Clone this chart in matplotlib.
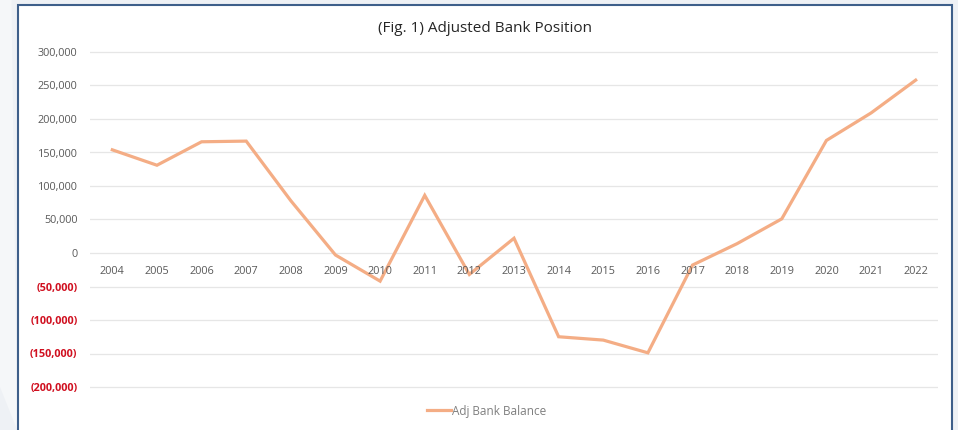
import matplotlib
matplotlib.use('Agg')
import matplotlib.pyplot as plt
from matplotlib.patches import Rectangle, Polygon

# данные
years = ['2004', '2005', '2006', '2007', '2008', '2009', '2010', '2011', '2012', '2013',
         '2014', '2015', '2016', '2017', '2018', '2019', '2020', '2021', '2022']
balance = [154000, 131000, 166000, 167000, 78000, -3000, -42000, 86000, -32000, 22000,
           -125000, -130000, -149000, -18000, 14000, 51000, 168000, 209000, 258000]
yticks = [300000, 250000, 200000, 150000, 100000, 50000, 0,
          -50000, -100000, -150000, -200000]


def fmt(v):
    if v < 0:
        return '({:,})'.format(-v)
    if v == 0:
        return '0'
    return '{:,}'.format(v)


plt.rcParams['font.family'] = ['Open Sans', 'DejaVu Sans']

W, H = 958, 430
fig = plt.figure(figsize=(W / 100, H / 100), dpi=100)
fig.patch.set_facecolor('#eef1f5')

# светлая полоса слева
fig.patches.append(Polygon([(0, 1), (0.012, 1), (0.018, 0), (0, 0.1)], closed=True,
                           transform=fig.transFigure, facecolor='#f5f7f9', edgecolor='none',
                           zorder=-2))
# рамка диаграммы
fig.patches.append(Rectangle((18 / W, -0.05), (952 - 18) / W, (H - 5) / H + 0.05,
                             transform=fig.transFigure, facecolor='white',
                             edgecolor='#3e5f8a', linewidth=1.5, zorder=-1))

ax = fig.add_axes([90 / W, 1 - 400 / H, (938 - 90) / W, (400 - 40) / H])
ax.set_facecolor('none')
ax.set_zorder(2)

x = list(range(len(years)))
line, = ax.plot(x, balance, color='#f4ad85', lw=2.3, label='Adj Bank Balance',
                solid_joinstyle='miter', zorder=3)

ax.set_xlim(-0.5, len(years) - 0.5)
# 300k at y=52, -200k at y=387
k = (387 - 52) / 500000
ax.set_ylim(-200000 - (400 - 387) / k, 300000 + (52 - 40) / k)
ax.set_yticks(yticks)
ax.set_yticklabels([fmt(v) for v in yticks], fontsize=7.8)
for lbl, v in zip(ax.get_yticklabels(), yticks):
    if v < 0:
        lbl.set_color('#d01020')
        lbl.set_fontweight('bold')
    else:
        lbl.set_color('#595959')
ax.grid(axis='y', color='#e6e6e6', lw=0.9, zorder=0)
ax.tick_params(axis='both', length=0, pad=9)

# подписи годов рядом с нулевой осью
ax.set_xticks([])
for xi, yr in zip(x, years):
    ax.text(xi, -27000, yr, ha='center', va='center', fontsize=7.8, color='#595959',
            transform=ax.transData, zorder=4)

for s in ax.spines.values():
    s.set_visible(False)

fig.text(485 / W, 1 - 28 / H, '(Fig. 1) Adjusted Bank Position', ha='center', va='center',
         fontsize=11, color='#262626')

leg = fig.legend(handles=[line], loc='center', bbox_to_anchor=(487 / W, 1 - 411 / H),
                 frameon=False, fontsize=8.5, handlelength=2.0, handletextpad=0.1)
for t in leg.get_texts():
    t.set_color('#7f7f7f')

fig.savefig('out.png', dpi=100, facecolor=fig.get_facecolor())
